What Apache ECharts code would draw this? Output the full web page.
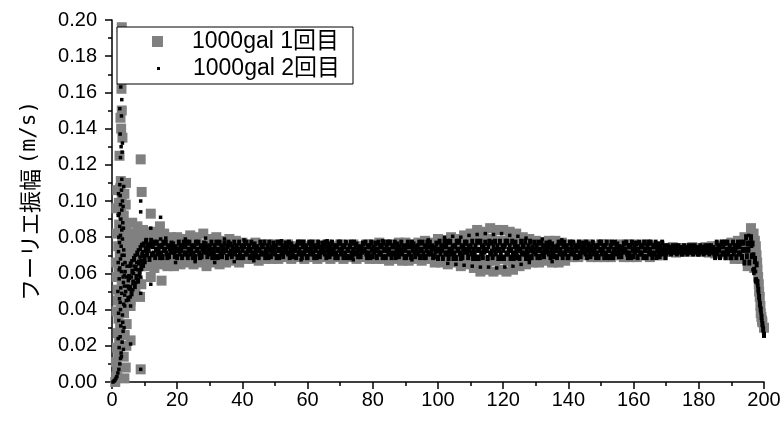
<!DOCTYPE html>
<html>
<head>
<meta charset="utf-8">
<script src="https://cdn.jsdelivr.net/npm/echarts@6/dist/echarts.min.js"></script>
<style>html,body{margin:0;padding:0;background:#fff;}#c{width:784px;height:424px;}</style>
</head>
<body>
<div id="c"></div>
<script>
// ---- Data (amplitudes in mm/s, converted to m/s when plotted) ----
const seriesNames = ['1000gal 1回目', '1000gal 2回目'];
const xTicks = [0, 20, 40, 60, 80, 100, 120, 140, 160, 180, 200];
const yTicks = [0.00, 0.02, 0.04, 0.06, 0.08, 0.10, 0.12, 0.14, 0.16, 0.18, 0.20];

// Run 1 (gray): regular frequency bins from 5 Hz, step 0.5 Hz
const grayStart = 5, grayStep = 0.5;
const grayBand = [
58,76,66,82,60,74,55,78,64,84,
82,77,64,69,83,78,63,68,81,76,65,70,82,77,64,69,80,75,64,69,
80,75,65,70,79,74,66,71,81,76,65,70,80,75,66,70,82,76,64,69,
79,74,66,71,80,75,65,70,78,73,66,71,79,74,67,71,78,73,66,71,
77,73,68,71,76,73,68,71,77,73,67,71,76,73,68,71,76,73,68,71,
76,73,68,71,75,73,69,71,76,73,68,71,75,73,69,71,76,73,68,71,
75,73,69,71,76,73,68,71,75,73,69,71,76,73,68,71,75,73,69,71,
76,73,68,71,75,73,69,71,76,73,68,71,75,73,69,71,76,73,68,71,
76,73,68,71,77,73,68,71,76,73,67,71,76,73,68,71,77,73,67,71,
77,73,67,71,76,73,68,71,77,73,67,71,78,74,68,71,77,73,66,70,
79,74,66,70,78,74,65,70,80,75,66,70,79,75,64,69,81,76,65,70,
82,77,63,68,84,78,61,67,83,78,62,67,85,79,61,67,84,78,62,68,
84,78,61,67,83,78,62,68,82,77,64,69,80,75,65,70,79,74,66,70,
78,74,66,71,77,73,67,71,78,74,66,71,78,74,66,71,77,73,67,71,
76,73,69,71,75,73,69,72,76,73,70,72,76,73,69,72,75,73,69,71,
76,73,69,72,76,73,69,71,75,73,70,72,76,73,69,71,76,73,69,72,
76,73,69,71,75,73,70,72,76,73,69,71,75,73,70,72,75,73,70,72,
74,73,72,73,74.5,73,71.5,73,74,73,72,72.5,74,73.5,72,73,74.5,73,72,73,
74,73,72,73,74.5,73,71.5,73,75,73,71,72,75,74,71,72,76,74,70,72,
77,74,68,71,78,74,68,71,80,76,64,69,85,80,63,75,62,50,38,33,
30
];
// Run 1 (gray): scattered low-frequency, wedge and tail points
const grayExtraF = [
  1.0,1.3,1.6,1.2,1.9,1.5,2.2,1.8,2.5,2.0,1.4,2.8,2.3,1.7,3.0,2.6,2.0,3.3,2.4,1.9,3.1,2.7,2.2,3.4,2.8,2.1,3.0,2.5,2.7,
  3.8,4.2,3.6,4.4,3.9,4.5,3.7,4.1,4.6,4.0,3.6,4.2,3.8,4.3,1.4,1.2,1.5,1.3,1.6,1.8,
  2.3,3.2,2.8,2.6,3.0,2.9,3.0,
  3.8,4.2,4.5,4.0,4.4,3.6,4.3,
  4.5,5.2,5.5,6.2,6.6,7.2,7.8,8.2,9.0,9.4,4.8,7.0,5.8,6.8,
  6.0,5.7,5.7,5.7,8.6,8.8,8.8,9.1,8.6,11.9,14.7,11.9,15.2,
  196.8,197.2,197.3,197.5,197.7,197.9,198.2,198.4,198.7,198.9,199.2,199.4];
const grayExtraV = [
  0,3,7,11,15,19,23,27,31,35,39,43,47,51,55,59,63,67,71,75,79,83,87,91,95,99,103,107,111,
  2,8,14,20,26,32,38,44,50,86,92,98,104,110,58,66,82,96,106,45,
  125,135,140,146,150,162,196,
  60,68,56,74,80,50,62,
  84,70,50,88,72,52,86,70,54,80,64,78,60,66,
  77,45,23,42,47,7,123,105,83,93,86,58,56,
  82,78,73,68,70,66,58,54,47,42,36,34];

// Run 2 (black): regular frequency bins from 5 Hz, step 0.25 Hz
const blackStart = 5, blackStep = 0.25;
const blackBand = [
46,58,52,65,49,61,55,68,53,63,58,71,56,66,61,74,63,70,66,76,
68,73,78,70.5,75.5,73,68,75.5,78,70.5,75,71,77,69,73,77,71,73,75,69,
71,75,69,77,73,73,77,71,69,75,69.5,74,72,76.5,73,76,72,69.5,74.5,73,
69,73,77,71,75,73,69,75,77,71,75,71,77,69,73,77,71,73,75,69,
71,75,69,77,73,73,77,71,69,75,69.5,74,72,76.5,73,76,72,69.5,74.5,73,
75,71,77,69,73,71,75,69,77,73,69,73,77,71,75,69.5,74,72,76.5,73,
73,69,75,77,71,76,72,69.5,74.5,73,77,71,73,75,69,73,77,71,69,75,
73,69,75,77,71,77,71,73,75,69,73,77,71,69,75,76,72,69.5,74.5,73,
69,73,77,71,75,75,71,77,69,73,71,75,69,77,73,69.5,74,72,76.5,73,
71,75,69,77,73,69,73,77,71,75,69.5,74,72,76.5,73,75,71,77,69,73,
76,72,69.5,74.5,73,73,69,75,77,71,73,77,71,69,75,77,71,73,75,69,
69,73,77,71,75,73,77,71,69,75,73,69,75,77,71,69.5,74,72,76.5,73,
75,71,77,69,73,76,72,69.5,74.5,73,77,71,73,75,69,71,75,69,77,73,
77,71,73,75,69,75,71,77,69,73,73,69,75,77,71,69,73,77,71,75,
76,72,69.5,74.5,73,69.5,74,72,76.5,73,73,77,71,69,75,71,75,69,77,73,
69.5,74,72,76.5,73,69,73,77,71,75,71,75,69,77,73,73,69,75,77,71,
73,77,71,69,75,75,71,77,69,73,76,72,69.5,74.5,73,77,71,73,75,69,
73,69,75,77,71,71,75,69,77,73,76,72,69.5,74.5,73,75,71,77,69,73,
73,77,71,69,75,69,73,77,71,75,77,71,73,75,69,69.5,74,72,76.5,73,
68.5,73,77.5,71,75,73,68.5,75,77.5,71,75,71,77.5,68.5,73,77.5,71,73,75,68.5,
71,75,68.5,77.5,73,73,77.5,71,68.5,75,69,74,72,77,73,77,72,69,74.5,73,
75,71,77.5,68.5,73,71,75,68.5,77.5,73,68.5,73,77.5,71,75,69,74,72,77,73,
73,68.5,75,77.5,71,77,72,69,74.5,73,77.5,71,73,75,68.5,73,77.5,71,68.5,75,
73,68.5,75,77.5,71,77.5,71,73,75,68.5,73,77.5,71,68.5,75,77,72,69,74.5,73,
68.5,73,77.5,71,75,75,71,77.5,68.5,73,71,75,68.5,77.5,73,69,74,72,77,73,
71,75,69,77,73,69,73,77,71,75,69.5,74,72,76.5,73,75,71,77,69,73,
76,72,69.5,74.5,73,73,69,75,77,71,73,77,71,69,75,77,71,73,75,69,
69,73,77,71,75,73,77,71,69,75,73,69,75,77,71,69.5,74,72,76.5,73,
75,71,77,69,73,76,72,69.5,74.5,73,77,71,73,75,69,71,75,69,77,73,
77,71,73,75,69,75,71,77,69,73,73,69,75,77,71,69,73,77,71,75,
76,72,69.5,74.5,73,69.5,74,72,76.5,73,73,77,71,69,75,71,75,69,77,73,
69.5,74,72,76.5,73,69,73,77,71,75,71,75,69,77,73,73,69,75,77,71,
73,77,71,69,75,75,71,77,69,73,76,72,69.5,74.5,73,77,71,73,75,69,
71,73,75,72,74,73,71,74,75,72,74,72,75,71,73,75,72,73,74,71,
71,73,75,72,74,73,71,74,75,72,74,72,75,71,73,75,72,73,74,71,
71,73,75,72,74,73,71,74,75,72,74,72,75,71,73,75,72,73,74,71,
69,73,77,71,75,73,69,75,77,71,75,71,77,69,73,77,71,73,75,69,
69,73,77,71,75,73,69,75,77,71,75,71,77,69,73,77,
66,73,80,69.5,76.5,73,66,76.5,80,69.5,76.5,70,
62,68,56,65,55,51,47,43,40,36,32,29,
26
];
// Run 2 (black): scattered low-frequency, wedge, spikes and tail points
const blackExtraF = [
  0.3,0.6,0.9,1.2,1.5,1.8,2.1,2.4,2.6,
  2.8,2.2,3.1,2.5,3.4,2.7,2.1,3.2,2.6,3.6,2.3,3.0,2.7,3.5,2.2,3.8,2.9,2.4,3.3,4.0,2.6,3.1,2.0,3.6,2.8,2.3,3.2,2.6,3.0,2.4,3.3,2.7,2.2,3.0,2.6,3.2,2.5,2.9,2.4,3.0,
  3.5,1.9,3.7,2.0,3.9,1.8,3.4,1.9,3.7,2.1,3.5,1.9,3.4,2.0,3.6,2.9,3.3,2.5,3.8,2.2,
  2.6,3.1,2.8,3.2,2.5,2.9,2.4,3.0,2.7,
  4.2,4.5,4.8,4.0,4.6,3.9,4.4,5.0,
  5.1,5.4,5.6,5.9,6.1,6.4,6.6,6.9,7.1,7.4,7.6,7.9,8.1,8.4,8.6,8.9,9.1,9.4,9.6,9.9,10.1,10.4,
  8.8,8.8,14.9,11.9,14.9,8.8,8.8,11.9,8.8,5.7,5.7,8.8,
  16.5,19.5,22.5,25.5,28.7,31.5,34.5,37.5,40.5,43.5,52,58,66,74,83,92,97,
  102,104.5,107,109.5,112,114.5,117,119.5,122,124.5,127,
  103,105.5,108,110.5,113,115.5,118,120.5,123,125.5,128,132,135,138,
  195.3,196.1,196.2,196.4,196.6,196.9,197.1,197.4,197.6,197.9,198.1,198.35,198.6,198.9,199.1,199.35,199.6,199.9];
const blackExtraV = [
  0,0.5,1,2,3,5,7,10,13,
  16,19,22,25,28,31,34,37,40,43,46,49,52,55,57,59,61,63,65,66,68,70,72,73,75,77,79,81,84,86,88,90,93,95,98,100,103,106,109,112,
  18,24,30,38,42,50,58,66,70,80,85,92,97,104,108,14,33,44,53,62,
  124,127,130,132,137,147,151,156,163,
  50,58,53,61,64,48,45,56,
  52,64,47,58,67,51,60,64,70,55,66,62,73,59,69,67,76,72,64,70,66,78,
  100,94,91,85,79,62,58,54,49,42,21,7,
  79.5,66,79,66.5,79.5,66,79,66.5,78.5,67,78,67.5,78,67.5,78,67.5,78.5,
  80,80.5,80,81,81.5,82,81.5,82,81,80.5,79.5,
  65.5,65,64.5,64,63.5,63.5,63,63.5,64,65,66,79,66.5,78.5,
  81,79,75,70,62,60,66,61,57,56,53,49,45,41,38,34,31,27];

// ---- Build series data ----
function bandPoints(start, step, vals) {
  return vals.map((v, i) => [start + i * step, v / 1000]);
}
function extraPoints(fs, vs) {
  return fs.map((f, i) => [f, vs[i] / 1000]);
}
const grayData = extraPoints(grayExtraF, grayExtraV).concat(bandPoints(grayStart, grayStep, grayBand));
const blackData = extraPoints(blackExtraF, blackExtraV).concat(bandPoints(blackStart, blackStep, blackBand));
const nBlackExtra = blackExtraF.length;

const latin = "'Liberation Sans', Arial, sans-serif";
const mixed = "'Liberation Sans', 'Noto Sans CJK JP', sans-serif";

const chart = echarts.init(document.getElementById('c'), null, {renderer: 'canvas'});
chart.setOption({
  animation: false,
  backgroundColor: '#ffffff',
  grid: {left: 112, right: 20, top: 20, bottom: 42, containLabel: false},
  xAxis: {
    type: 'value', min: xTicks[0], max: xTicks[xTicks.length - 1], interval: 20,
    axisLine: {show: true, onZero: false, lineStyle: {color: '#000', width: 1.5}},
    axisTick: {show: true, inside: false, length: 7, lineStyle: {color: '#000', width: 1.5}},
    minorTick: {show: true, splitNumber: 2, length: 4, lineStyle: {color: '#000', width: 1.5}},
    splitLine: {show: false},
    axisLabel: {color: '#000', fontSize: 20, fontFamily: latin, margin: 8}
  },
  yAxis: {
    type: 'value', min: yTicks[0], max: yTicks[yTicks.length - 1], interval: 0.02,
    name: '{a|フーリエ振幅} {b|(m/s)}', nameLocation: 'middle', nameGap: 71, nameRotate: 90,
    nameTextStyle: {color: '#000', fontSize: 22, fontFamily: "'Noto Sans CJK JP', sans-serif",
      rich: {
        a: {fontSize: 22, fontFamily: "'Noto Sans CJK JP', sans-serif", color: '#000'},
        b: {fontSize: 21, fontFamily: "'DejaVu Sans Mono', monospace", color: '#000'}
      }},
    axisLine: {show: true, onZero: false, lineStyle: {color: '#000', width: 1.5}},
    axisTick: {show: true, inside: false, length: 7, lineStyle: {color: '#000', width: 1.5}},
    minorTick: {show: true, splitNumber: 2, length: 4, lineStyle: {color: '#000', width: 1.5}},
    splitLine: {show: false},
    axisLabel: {color: '#000', fontSize: 20, fontFamily: latin, margin: 15,
      formatter: v => v.toFixed(2)}
  },
  graphic: [{
    type: 'rect', z: 50, silent: true,
    shape: {x: 117, y: 27, width: 236, height: 57},
    style: {fill: '#fff', stroke: '#000', lineWidth: 1}
  }],
  legend: [
    {data: [{name: seriesNames[0], icon: 'rect'}], left: 152, top: 30, padding: 0,
     itemWidth: 11, itemHeight: 11, selectedMode: false, z: 60,
     textStyle: {color: '#000', fontSize: 23, fontFamily: mixed, padding: [0, 0, 0, 24]}},
    {data: [{name: seriesNames[1], icon: 'rect'}], left: 157, top: 57, padding: 0,
     itemWidth: 3, itemHeight: 3, selectedMode: false, z: 60,
     textStyle: {color: '#000', fontSize: 23, fontFamily: mixed, padding: [0, 0, 0, 28]}}
  ],
  series: [
    {name: seriesNames[0], type: 'scatter', symbol: 'rect', symbolSize: 10,
     itemStyle: {color: '#808080', opacity: 1}, data: grayData, z: 2, silent: true},
    {name: seriesNames[1], type: 'scatter', symbol: 'rect',
     symbolSize: (val, params) => params.dataIndex < nBlackExtra ? 3.5 : [4, 6],
     itemStyle: {color: '#000000', opacity: 1}, data: blackData, z: 3, silent: true}
  ]
});
</script>
</body>
</html>
